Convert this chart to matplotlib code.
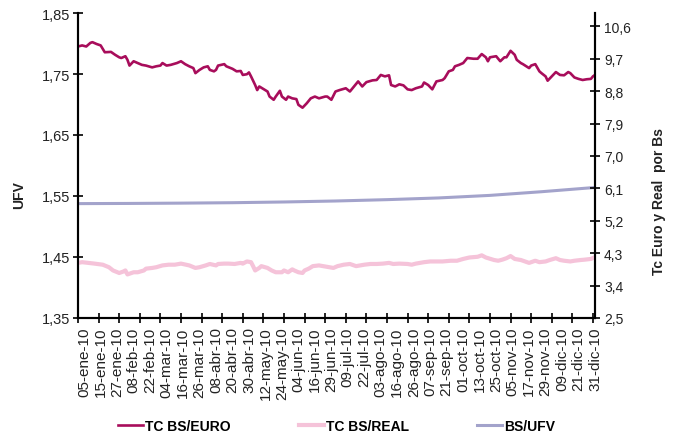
import matplotlib.pyplot as plt

plt.rcParams['font.family'] = ['Liberation Sans', 'DejaVu Sans']

# business-day index (0 = first day plotted) and values
euro_idx = [0, 2, 4, 6, 7, 9, 11, 13, 16, 18,
            20, 21, 23, 24, 25, 27, 29, 31, 33, 36,
            38, 40, 41, 43, 45, 48, 50, 52, 54, 56,
            57, 59, 61, 63, 64, 66, 67, 68, 71, 72,
            75, 77, 79, 80, 82, 83, 84, 86, 87, 88,
            90, 92, 93, 95, 96, 98, 99, 101, 102, 104,
            106, 107, 109, 111, 113, 115, 117, 120, 121, 123,
            125, 127, 130, 132, 134, 136, 138, 140, 143, 145,
            147, 149, 151, 152, 154, 156, 158, 160, 162, 164,
            167, 168, 170, 172, 174, 177, 178, 180, 182, 183,
            185, 187, 189, 192, 194, 196, 198, 199, 200, 203,
            205, 207, 208, 210, 212, 213, 215, 216, 219, 220,
            222, 224, 225, 227, 228, 230, 232, 234, 236, 238,
            239, 241, 243, 245, 247, 249, 250, 251]
euro_val = [10.04, 10.07, 10.04, 10.14, 10.16, 10.11, 10.07, 9.88, 9.89, 9.81,
            9.74, 9.72, 9.77, 9.67, 9.51, 9.63, 9.58, 9.53, 9.51, 9.46,
            9.49, 9.51, 9.58, 9.51, 9.53, 9.58, 9.63, 9.55, 9.49, 9.44,
            9.30, 9.39, 9.46, 9.49, 9.39, 9.35, 9.39, 9.51, 9.55, 9.49,
            9.42, 9.35, 9.36, 9.25, 9.27, 9.32, 9.21, 8.97, 8.83, 8.93,
            8.86, 8.79, 8.65, 8.56, 8.65, 8.81, 8.65, 8.56, 8.65, 8.60,
            8.58, 8.42, 8.34, 8.46, 8.60, 8.65, 8.60, 8.65, 8.65, 8.56,
            8.79, 8.83, 8.88, 8.79, 8.93, 9.07, 8.93, 9.05, 9.10, 9.11,
            9.25, 9.21, 9.24, 8.97, 8.93, 8.99, 8.96, 8.85, 8.83, 8.88,
            8.93, 9.04, 8.97, 8.85, 9.07, 9.11, 9.16, 9.35, 9.39, 9.49,
            9.53, 9.58, 9.72, 9.70, 9.70, 9.83, 9.74, 9.63, 9.74, 9.77,
            9.63, 9.74, 9.74, 9.92, 9.81, 9.67, 9.58, 9.55, 9.44, 9.51,
            9.55, 9.35, 9.30, 9.21, 9.09, 9.21, 9.33, 9.25, 9.24, 9.33,
            9.30, 9.18, 9.14, 9.11, 9.13, 9.14, 9.21, 9.25]

real_idx = [0, 2, 5, 8, 12, 15, 17, 20, 22, 23,
            24, 27, 29, 32, 33, 36, 38, 41, 44, 47,
            50, 54, 57, 59, 62, 64, 67, 68, 71, 73,
            76, 79, 80, 82, 84, 85, 86, 88, 89, 92,
            94, 96, 99, 100, 102, 104, 105, 107, 109, 110,
            112, 114, 117, 119, 122, 124, 126, 129, 132, 135,
            139, 142, 145, 148, 151, 153, 156, 160, 162, 164,
            168, 171, 174, 177, 181, 184, 187, 190, 194, 196,
            198, 202, 204, 206, 208, 210, 212, 215, 217, 219,
            222, 224, 227, 229, 232, 234, 236, 239, 241, 244,
            246, 249, 251]
real_val = [4.03, 4.05, 4.03, 4.01, 3.98, 3.91, 3.82, 3.75, 3.79, 3.82,
            3.71, 3.77, 3.77, 3.82, 3.87, 3.89, 3.91, 3.96, 3.98, 3.98,
            4.01, 3.96, 3.89, 3.91, 3.96, 4.00, 3.96, 4.00, 4.01, 4.01,
            4.00, 4.03, 4.01, 4.07, 4.05, 3.94, 3.82, 3.89, 3.94, 3.89,
            3.82, 3.77, 3.77, 3.82, 3.77, 3.85, 3.82, 3.77, 3.75, 3.82,
            3.87, 3.94, 3.96, 3.94, 3.91, 3.89, 3.94, 3.98, 4.00, 3.94,
            3.98, 4.00, 4.00, 4.01, 4.03, 4.00, 4.01, 4.00, 3.98, 4.01,
            4.05, 4.07, 4.07, 4.07, 4.09, 4.09, 4.14, 4.18, 4.20, 4.24,
            4.18, 4.11, 4.09, 4.12, 4.16, 4.22, 4.14, 4.11, 4.07, 4.03,
            4.09, 4.05, 4.07, 4.11, 4.16, 4.11, 4.09, 4.07, 4.09, 4.11,
            4.12, 4.14, 4.19]

ufv_idx = [0, 25, 50, 75, 100, 125, 150, 175, 200, 225, 251]
ufv_val = [1.5375, 1.5378, 1.5383, 1.5390, 1.5402, 1.5418, 1.5440,
           1.5468, 1.5510, 1.5570, 1.5640]

date_labels = ['05-ene-10', '15-ene-10', '27-ene-10', '08-feb-10', '22-feb-10',
               '04-mar-10', '16-mar-10', '26-mar-10', '08-abr-10', '20-abr-10',
               '30-abr-10', '12-may-10', '24-may-10', '04-jun-10', '16-jun-10',
               '29-jun-10', '09-jul-10', '22-jul-10', '03-ago-10', '16-ago-10',
               '26-ago-10', '07-sep-10', '21-sep-10', '01-oct-10', '13-oct-10',
               '25-oct-10', '05-nov-10', '17-nov-10', '29-nov-10', '09-dic-10',
               '21-dic-10', '31-dic-10']
label_pos = list(range(3, 252, 8))

left_ticks = [1.35, 1.45, 1.55, 1.65, 1.75, 1.85]
right_ticks = [2.5, 3.4, 4.3, 5.2, 6.1, 7.0, 7.9, 8.8, 9.7, 10.6]

txt = '#222222'

fig = plt.figure(figsize=(6.76, 4.35), dpi=100)
ax = fig.add_axes([0.1154, 0.2667, 0.7648, 0.7011])
ax2 = ax.twinx()

ufv_line, = ax.plot(ufv_idx, ufv_val, color='#A3A3CB', lw=2.2)
real_line, = ax2.plot(real_idx, real_val, color='#F5C3D9', lw=3)
euro_line, = ax2.plot(euro_idx, euro_val, color='#A80D5B', lw=1.9)

ax.set_xlim(0, 251)
ax.set_ylim(1.35, 1.85)
ax.set_yticks(left_ticks)
ax.set_yticklabels([f'{v:.2f}'.replace('.', ',') for v in left_ticks])
ax2.set_ylim(2.5, 10.97)
ax2.set_yticks(right_ticks)
ax2.set_yticklabels([f'{v:.1f}'.replace('.', ',') for v in right_ticks])

ax.set_xticks(label_pos)
ax.set_xticklabels(date_labels, rotation=90, fontsize=11, color=txt)
ax.set_xticks(range(0, 251, 10), minor=True)
ax.tick_params(axis='x', which='major', length=0, pad=6)
ax.tick_params(axis='x', which='minor', direction='inout', length=7, width=1.2)
ax.tick_params(axis='y', direction='inout', length=7, width=1.2, labelsize=10.5,
               labelcolor=txt, pad=2)
ax2.tick_params(axis='y', direction='inout', length=7, width=1.2, labelsize=10,
                labelcolor=txt, pad=3)

for a in (ax, ax2):
    a.spines['top'].set_visible(False)
    for s in ('left', 'right', 'bottom'):
        a.spines[s].set_linewidth(1.5)

ax.set_ylabel('UFV', fontsize=10, fontweight='bold', color=txt)
ax.yaxis.set_label_coords(-0.1, 0.407)
ax2.set_ylabel('Tc Euro y Real  por Bs', fontsize=10, fontweight='bold', color=txt)
ax2.yaxis.set_label_coords(1.11, 0.384)

fig.legend([euro_line, real_line, ufv_line], ['TC BS/EURO', 'TC BS/REAL', 'BS/UFV'],
           loc='center left', bbox_to_anchor=(118 / 676, 1 - 427 / 435), ncol=3,
           frameon=False, handlelength=1.8, handletextpad=0.15, columnspacing=4.9,
           borderpad=0, borderaxespad=0, prop={'weight': 'bold', 'size': 10})

fig.savefig('out.png', dpi=100)
